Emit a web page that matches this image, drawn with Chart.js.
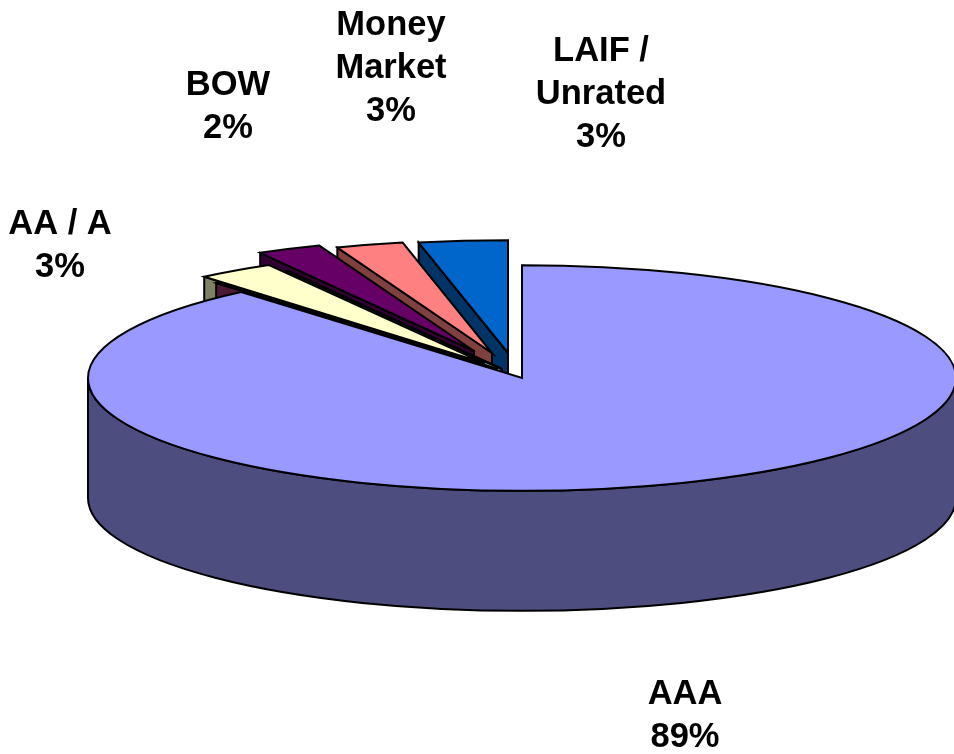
<!DOCTYPE html>
<html>
<head>
<meta charset="utf-8">
<title>Portfolio by rating</title>
<script src="https://cdn.jsdelivr.net/npm/chart.js@4/dist/chart.umd.min.js"></script>
<style>
  html, body { margin: 0; padding: 0; background: #fff; }
  canvas { display: block; }
</style>
</head>
<body>
<canvas id="myChart" width="954" height="754"></canvas>
<script>
// two thin unlabelled slices sit between the labelled ones, only their walls show
const categories = ['AAA', '', 'AA / A', '', 'BOW', 'Money Market', 'LAIF / Unrated'];
const shares = [88.8, 0.05, 2.9, 0.05, 2.4, 2.5, 3.3];

const topColors = ['#9999FF', '#993366', '#FFFFCC', '#CCFFFF', '#660066', '#FF8080', '#0066CC'];
const wallColors = ['#4D4D80', '#4D1A33', '#808066', '#668080', '#330033', '#804040', '#003366'];

// how far each slice is pulled out of the pie, in screen pixels
const pullX = [0, -25, -38, -20, -48, -30, -14];
const pullY = [0, -9, -15, -9, -27, -25, -25];

// label anchors: centre x, first baseline y
const labelX = [685, null, 60, null, 228, 391, 601];
const labelY = [704, null, 234, null, 95, 35, 61];

const tilt = 0.26;      // ellipse height / width
const depth = 120;      // pie thickness
const lineHeight = 43;

const pie3d = {
    id: 'pie3d',
    beforeDatasetsDraw(chart) {
        const ctx = chart.ctx;
        const arcs = chart.getDatasetMeta(0).data;

        // back to front, AAA goes last
        for (let i = arcs.length - 1; i >= 0; i--) {
            const arc = arcs[i];

            const squash = () => {
                ctx.translate(pullX[i], arc.y + pullY[i]);
                ctx.scale(1, tilt);
                ctx.translate(0, -arc.y);
            };
            const outline = (color) => {
                ctx.restore();
                ctx.fillStyle = color;
                ctx.fill();
                ctx.lineWidth = 2;
                ctx.strokeStyle = '#000';
                ctx.stroke();
            };

            const drop = depth / tilt;
            const r = arc.outerRadius;

            // wall on the start edge
            ctx.save();
            squash();
            ctx.beginPath();
            ctx.moveTo(arc.x, arc.y);
            ctx.lineTo(arc.x + Math.cos(arc.startAngle) * r, arc.y + Math.sin(arc.startAngle) * r);
            ctx.lineTo(arc.x + Math.cos(arc.startAngle) * r, arc.y + Math.sin(arc.startAngle) * r + drop);
            ctx.lineTo(arc.x, arc.y + drop);
            ctx.closePath();
            outline(wallColors[i]);

            // rim, only the part of the arc that faces the viewer
            const from = Math.max(arc.startAngle, 0);
            const to = Math.min(arc.endAngle, Math.PI);
            if (to > from) {
                ctx.save();
                squash();
                ctx.beginPath();
                ctx.arc(arc.x, arc.y, r, from, to);
                ctx.arc(arc.x, arc.y + drop, r, to, from, true);
                ctx.closePath();
                outline(wallColors[i]);
            }

            // top face comes from the library's own arc
            ctx.save();
            squash();
            arc.draw(ctx);
            ctx.restore();

            ctx.save();
            squash();
            ctx.beginPath();
            ctx.moveTo(arc.x, arc.y);
            ctx.arc(arc.x, arc.y, r, arc.startAngle, arc.endAngle);
            ctx.closePath();
            ctx.restore();
            ctx.lineWidth = 2;
            ctx.strokeStyle = '#000';
            ctx.stroke();
        }
        return false;
    },
    afterDraw(chart) {
        const ctx = chart.ctx;
        ctx.save();
        ctx.fillStyle = '#000';
        ctx.font = 'bold 34.5px "Liberation Sans"';
        ctx.textAlign = 'center';
        ctx.textBaseline = 'alphabetic';
        categories.forEach((name, i) => {
            if (!name) return;
            let lines = [name];
            if (name === 'Money Market') lines = ['Money', 'Market'];
            if (name === 'LAIF / Unrated') lines = ['LAIF /', 'Unrated'];
            lines.push(Math.round(shares[i]) + '%');
            lines.forEach((line, n) => {
                ctx.fillText(line, labelX[i], labelY[i] + n * lineHeight);
            });
        });
        ctx.restore();
    }
};

const ctx = document.getElementById('myChart').getContext('2d');

const myChart = new Chart(ctx, {
    type: 'pie',
    data: {
        labels: categories,
        datasets: [{
            data: shares,
            backgroundColor: topColors,
            borderWidth: 0
        }]
    },
    options: {
        responsive: false,
        animation: false,
        events: [],
        radius: 434,
        layout: { padding: { left: 90, top: 2 } },
        plugins: {
            legend: { display: false },
            tooltip: { enabled: false }
        }
    },
    plugins: [pie3d]
});
</script>
</body>
</html>
